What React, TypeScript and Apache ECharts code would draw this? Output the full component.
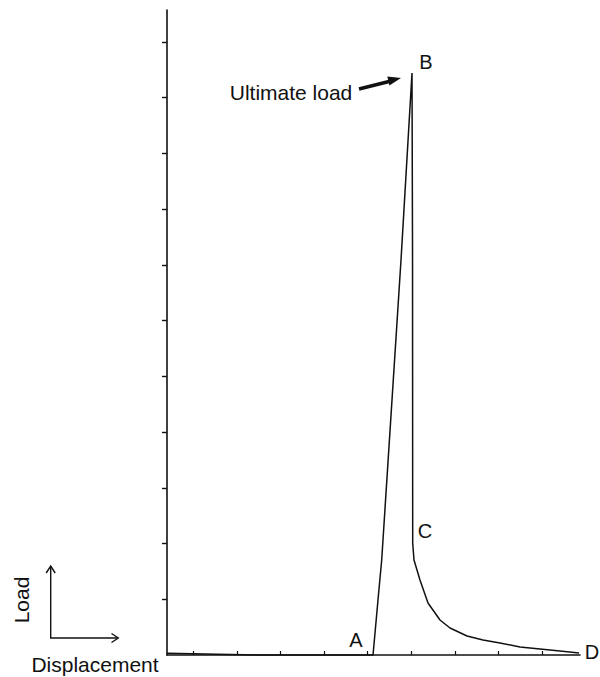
import React, { useEffect, useRef } from "react";
import * as echarts from "echarts";

// Displacement (x, in axis-tick units) and Load (y, in axis-tick units)
const displacement = [0.397, 2.5, 5.122, 5.236, 5.321, 5.764, 6.016, 6.028, 6.032, 6.062, 6.199, 6.383, 6.658, 6.888, 7.278, 7.645, 8.034, 8.493, 8.952, 9.411, 9.847];
const load = [0.03, 0.0, 0.0, 0.987, 1.705, 7.088, 10.443, 7.267, 2.01, 1.705, 1.346, 0.933, 0.628, 0.484, 0.341, 0.269, 0.215, 0.144, 0.108, 0.072, 0.036];

const xTicks = [1, 2, 3, 4, 5, 6, 7, 8, 9];
const yTicks = [1, 2, 3, 4, 5, 6, 7, 8, 9, 10, 11];
const xMin = 0.397;
const xMax = 9.869;
const yMin = 0;
const yMax = 11.574;

const pointLabels = [
  { text: "A", x: 356, y: 640 },
  { text: "B", x: 426, y: 62 },
  { text: "C", x: 425, y: 531 },
  { text: "D", x: 592, y: 652 },
];

const FONT = "'Liberation Sans', Arial, Helvetica, sans-serif";
const INK = "#111";

export default function App() {
  const ref = useRef<HTMLDivElement>(null);
  useEffect(() => {
    document.body.style.margin = "0";
    const chart = echarts.init(ref.current!, null, { renderer: "svg" });
    const data = displacement.map((d, i) => [d, load[i]]);
    chart.setOption({
      animation: false,
      backgroundColor: "#fff",
      grid: { left: 167, right: 20, top: 10, bottom: 22, containLabel: false, outerBoundsMode: "none" },
      xAxis: {
        type: "value",
        min: xMin,
        max: xMax,
        axisLine: { show: true, lineStyle: { color: INK, width: 1.6 } },
        axisTick: { show: true, inside: true, length: 4, customValues: xTicks, lineStyle: { color: INK, width: 1.2 } },
        axisLabel: { show: false },
        splitLine: { show: false },
      },
      yAxis: {
        type: "value",
        min: yMin,
        max: yMax,
        axisLine: { show: true, lineStyle: { color: INK, width: 1.6 } },
        axisTick: { show: true, inside: false, length: 5, customValues: yTicks, lineStyle: { color: INK, width: 1.4 } },
        axisLabel: { show: false },
        splitLine: { show: false },
      },
      series: [
        {
          type: "line",
          data,
          showSymbol: false,
          symbol: "none",
          smooth: false,
          clip: false,
          lineStyle: { color: INK, width: 1.5 },
        },
      ],
      graphic: [
        ...pointLabels.map((p) => ({
          type: "text",
          x: p.x,
          y: p.y,
          style: { text: p.text, fontSize: 20, fontFamily: FONT, fill: INK, align: "center", verticalAlign: "middle" },
        })),
        {
          type: "text",
          x: 291,
          y: 92,
          style: { text: "Ultimate load", fontSize: 21, fontFamily: FONT, fill: INK, align: "center", verticalAlign: "middle" },
        },
        {
          type: "line",
          shape: { x1: 359, y1: 89, x2: 391, y2: 81 },
          style: { stroke: INK, lineWidth: 3.5 },
        },
        {
          type: "polygon",
          shape: { points: [[401, 78], [389.4, 85.4], [387.3, 76.6]] },
          style: { fill: INK },
        },
        {
          type: "text",
          x: 21,
          y: 600,
          rotation: Math.PI / 2,
          style: { text: "Load", fontSize: 21, fontFamily: FONT, fill: INK, align: "center", verticalAlign: "middle" },
        },
        {
          type: "text",
          x: 95,
          y: 664,
          style: { text: "Displacement", fontSize: 21, fontFamily: FONT, fill: INK, align: "center", verticalAlign: "middle" },
        },
        {
          type: "polyline",
          shape: { points: [[50.7, 566], [50.7, 638], [118, 638]] },
          style: { stroke: INK, lineWidth: 1.4, fill: null },
        },
        {
          type: "polyline",
          shape: { points: [[46.2, 573], [50.7, 566], [55.2, 573]] },
          style: { stroke: INK, lineWidth: 1.4, fill: null },
        },
        {
          type: "polyline",
          shape: { points: [[111.5, 633.5], [118.3, 638], [111.5, 642.5]] },
          style: { stroke: INK, lineWidth: 1.4, fill: null },
        },
      ],
    });
    return () => chart.dispose();
  }, []);
  return <div ref={ref} style={{ width: 600, height: 677, position: "absolute", left: 0, top: 0 }} />;
}
